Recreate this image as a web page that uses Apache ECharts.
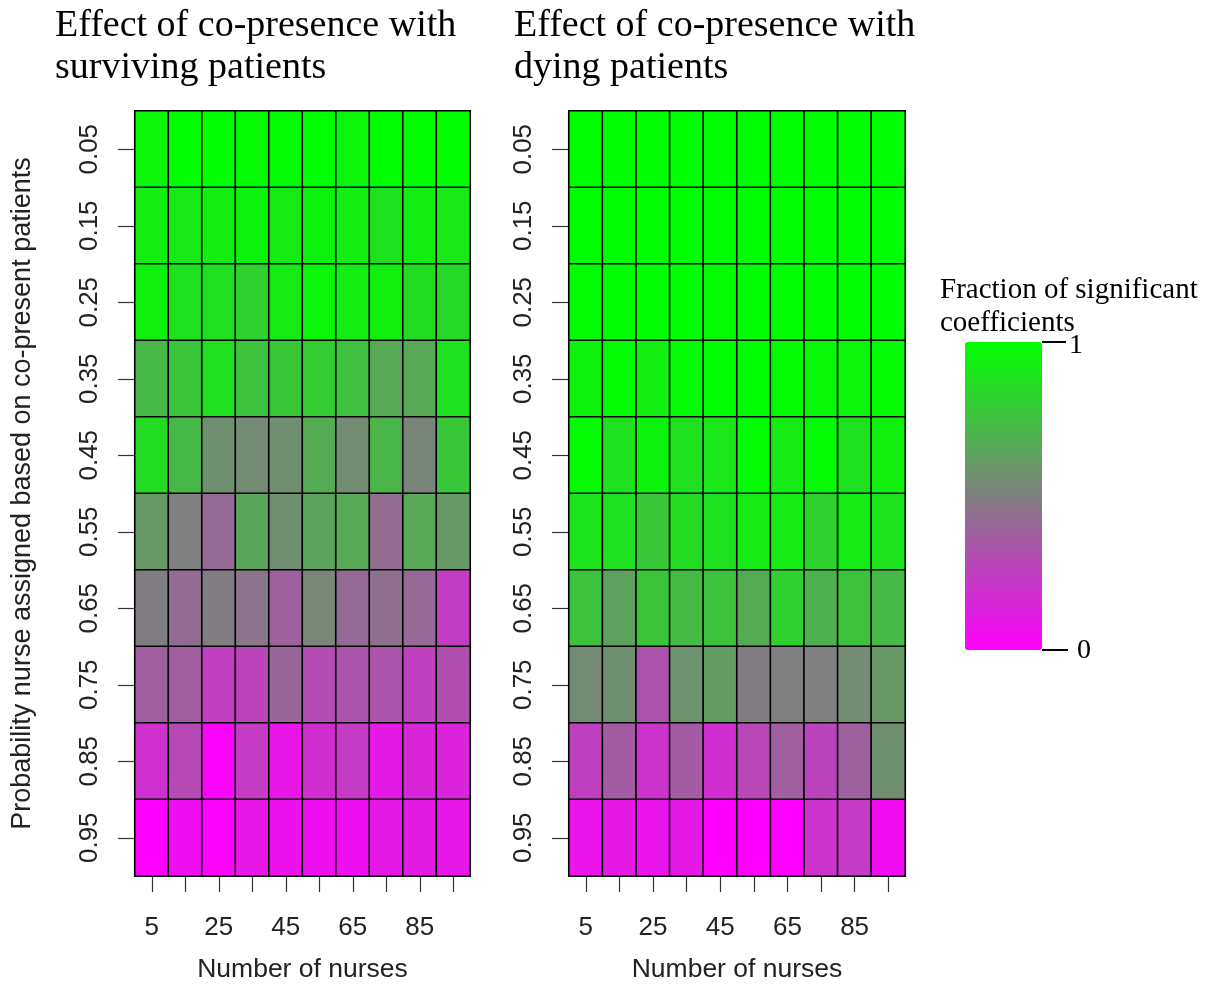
<!DOCTYPE html>
<html>
<head>
<meta charset="utf-8">
<script src="https://cdn.jsdelivr.net/npm/echarts@6/dist/echarts.min.js"></script>
<style>
html,body{margin:0;padding:0;background:#fff;}
#chart{width:1206px;height:988px;}
</style>
</head>
<body>
<div id="chart"></div>
<script>
// Number of nurses (columns)
var nurses = ['5','15','25','35','45','55','65','75','85','95'];
// Probability nurse assigned based on co-present patients (rows, top to bottom)
var probabilities = ['0.05','0.15','0.25','0.35','0.45','0.55','0.65','0.75','0.85','0.95'];

// Fraction of significant coefficients, one row per probability, one value per nurse count
var survivingValues = [
  [0.96,1.00,1.00,0.99,0.98,1.00,0.96,1.00,1.00,1.00],
  [0.93,0.91,0.93,0.95,0.92,0.95,0.93,0.88,0.93,0.91],
  [0.94,0.88,0.87,0.82,0.92,0.96,0.93,0.94,0.86,0.85],
  [0.72,0.77,0.87,0.76,0.78,0.80,0.75,0.66,0.66,0.88],
  [0.86,0.72,0.56,0.54,0.56,0.67,0.55,0.71,0.52,0.78],
  [0.60,0.50,0.42,0.65,0.56,0.64,0.66,0.43,0.66,0.60],
  [0.49,0.43,0.49,0.46,0.38,0.53,0.42,0.44,0.41,0.24],
  [0.37,0.37,0.25,0.27,0.40,0.30,0.33,0.33,0.25,0.31],
  [0.19,0.29,0.02,0.23,0.09,0.18,0.23,0.10,0.15,0.14],
  [0.00,0.06,0.02,0.09,0.07,0.06,0.06,0.10,0.11,0.09]
];
var dyingValues = [
  [1.00,1.00,1.00,1.00,1.00,1.00,1.00,1.00,1.00,1.00],
  [1.00,1.00,1.00,1.00,1.00,1.00,1.00,1.00,1.00,1.00],
  [0.99,1.00,1.00,1.00,0.98,1.00,1.00,1.00,1.00,1.00],
  [0.95,0.99,0.93,0.99,1.00,1.00,0.99,0.97,0.96,0.99],
  [0.98,0.88,0.95,0.88,0.90,0.99,0.92,0.98,0.88,0.94],
  [0.89,0.88,0.78,0.86,0.88,0.92,0.92,0.82,0.92,0.89],
  [0.76,0.63,0.77,0.73,0.76,0.67,0.82,0.69,0.76,0.72],
  [0.54,0.56,0.32,0.57,0.61,0.49,0.50,0.50,0.55,0.60],
  [0.25,0.36,0.20,0.36,0.18,0.28,0.37,0.27,0.38,0.56],
  [0.08,0.10,0.08,0.10,0.00,0.00,0.00,0.20,0.23,0.05]
];
var panelTitles = ['Effect of co-presence with\nsurviving patients', 'Effect of co-presence with\ndying patients'];
var legendTitle = 'Fraction of significant\ncoefficients';
var legendTicks = ['1', '0'];

function toTriples(rows) {
  var out = [];
  rows.forEach(function (row, yi) {
    row.forEach(function (v, xi) { out.push([xi, yi, v]); });
  });
  return out;
}

var SANS = '"Liberation Sans", Arial, sans-serif';
var SERIF = '"Liberation Serif", "Times New Roman", serif';
var grids = [
  {left: 135, top: 111, width: 335, height: 771},
  {left: 569, top: 111, width: 336, height: 771}
];

function xAxis(i) {
  return {
    type: 'category', gridIndex: i, data: nurses,
    name: 'Number of nurses', nameLocation: 'middle', nameGap: 80,
    nameTextStyle: {fontFamily: SANS, fontSize: 26.5, color: '#222'},
    axisLine: {show: false},
    axisTick: {show: true, alignWithLabel: true, interval: 0, length: 16, lineStyle: {color: '#333', width: 1.2}},
    axisLabel: {interval: 1, margin: 39, fontFamily: SANS, fontSize: 26, color: '#222'},
    splitLine: {show: false}, splitArea: {show: false}
  };
}
function yAxis(i) {
  return {
    type: 'category', gridIndex: i, data: probabilities, inverse: true,
    name: i === 0 ? 'Probability nurse assigned based on co-present patients' : '',
    nameLocation: 'middle', nameGap: 99,
    nameTextStyle: {fontFamily: SANS, fontSize: 27, color: '#222'},
    axisLine: {show: false},
    axisTick: {show: true, alignWithLabel: true, interval: 0, length: 17, lineStyle: {color: '#333', width: 1.2}},
    axisLabel: {rotate: 90, margin: 32, fontFamily: SANS, fontSize: 26, color: '#222'},
    splitLine: {show: false}, splitArea: {show: false}
  };
}

var chart = echarts.init(document.getElementById('chart'), null, {renderer: 'canvas'});
chart.setOption({
  backgroundColor: '#ffffff',
  animation: false,
  title: [
    {text: panelTitles[0], left: 55, top: 5, padding: 0,
     textStyle: {fontFamily: SERIF, fontSize: 38, fontWeight: 'normal', color: '#000', lineHeight: 42}},
    {text: panelTitles[1], left: 514, top: 5, padding: 0,
     textStyle: {fontFamily: SERIF, fontSize: 38, fontWeight: 'normal', color: '#000', lineHeight: 42}},
    {text: legendTitle, left: 940, top: 274, padding: 0,
     textStyle: {fontFamily: SERIF, fontSize: 29, fontWeight: 'normal', color: '#000', lineHeight: 33}}
  ],
  grid: grids,
  xAxis: [xAxis(0), xAxis(1)],
  yAxis: [yAxis(0), yAxis(1)],
  visualMap: {
    type: 'continuous', min: 0, max: 1, seriesIndex: [0, 1],
    inRange: {color: ['#ff00ff', '#00ff00']},
    left: 965, top: 342, itemWidth: 77, itemHeight: 308, padding: 0,
    calculable: false, show: true, text: null, hoverLink: false
  },
  series: [
    {type: 'heatmap', xAxisIndex: 0, yAxisIndex: 0, data: toTriples(survivingValues),
     itemStyle: {borderColor: '#000', borderWidth: 1.6}, emphasis: {disabled: true}},
    {type: 'heatmap', xAxisIndex: 1, yAxisIndex: 1, data: toTriples(dyingValues),
     itemStyle: {borderColor: '#000', borderWidth: 1.6}, emphasis: {disabled: true}}
  ],
  graphic: [
    {type: 'line', shape: {x1: 1042, y1: 342, x2: 1066, y2: 342}, style: {stroke: '#000', lineWidth: 2}},
    {type: 'line', shape: {x1: 1042, y1: 650, x2: 1068, y2: 650}, style: {stroke: '#000', lineWidth: 2}},
    {type: 'text', x: 1069, y: 346, style: {text: legendTicks[0], font: '28px ' + SERIF, fill: '#000', verticalAlign: 'middle'}},
    {type: 'text', x: 1077, y: 651, style: {text: legendTicks[1], font: '28px ' + SERIF, fill: '#000', verticalAlign: 'middle'}}
  ]
});
</script>
</body>
</html>
